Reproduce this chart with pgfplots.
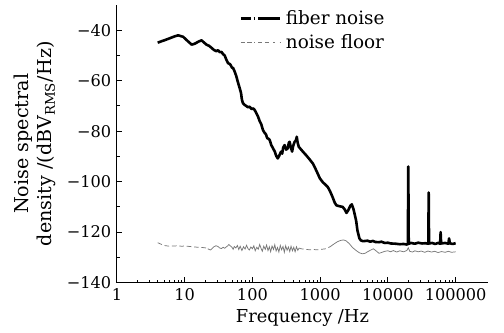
\documentclass[border=0pt]{standalone}
\usepackage{fontspec}
\setmainfont{DejaVu Serif}
\usepackage{pgfplots}
\pgfplotsset{compat=1.18}
\usepackage{pgfplotstable}

\pgfplotstableread{
f v
4 -44.9
5 -44
6 -43.2
7 -42.5
8 -42
9.5 -42.6
11 -44.2
12.7 -45.7
14.2 -45.3
16 -44.5
17.8 -44
19 -44.7
21 -45.7
23 -46.2
25 -47
27 -47.8
29.5 -48.3
31 -47.9
33 -48.7
35 -48.6
37 -49.5
39 -50
41 -51.5
43.6 -53
47 -53.5
50 -54.8
52 -55
55 -56.5
58 -58.3
61 -60.5
65 -63
68 -64.9
70 -67.5
72.5 -68.9
76 -69.5
81 -70
86 -70.5
91 -70.3
97 -71.2
103 -71
108 -71.6
114 -72.8
121 -74.2
128 -76
135 -77.2
143 -79.5
150 -80.5
158 -81.2
166 -82.8
173 -83
180 -83.5
190 -85.5
200 -86.6
214 -88.1
225 -89.8
237 -90.8
250 -89.6
265 -88.1
275 -88.9
285 -86.5
299 -85.5
315 -87.3
333 -86.8
345 -84.6
354 -84.2
370 -86.5
386 -88.1
400 -85.8
420 -84.2
440 -83.6
452 -82.2
465 -84.5
484 -86.2
520 -87.2
560 -88.2
620 -89.5
700 -91.2
780 -92.8
850 -94.8
920 -96.8
990 -98.7
1100 -100.3
1220 -101.4
1300 -102.2
1400 -103.8
1520 -106
1640 -108.3
1740 -109.4
1900 -109.7
2150 -110
2300 -111
2450 -112.4
2600 -111.3
2800 -109.5
2930 -109
3100 -110.8
3220 -112.7
3400 -115.5
3550 -119.3
3800 -122.5
4000 -123.3
4300 -123.6
5000 -123.4
5500 -123.8
6000 -123.5
6500 -123.9
7400 -124
8000 -123.8
9000 -124.3
10000 -124.2
11000 -124.5
13000 -124.6
15000 -124.8
17000 -124.7
19000 -124.9
19700 -124.8
20000 -94
20300 -124.6
22000 -124.3
25000 -124.6
28000 -124.2
32000 -124.5
36000 -124.4
39500 -124.6
40000 -104.3
40500 -124.5
45000 -124.3
50000 -124.7
55000 -124.3
59000 -124.6
60000 -120
61000 -124.5
70000 -124.3
78000 -124.6
80000 -122.5
82000 -124.4
90000 -124.7
100000 -124.4
}\fiber

\pgfplotstableread{
f v
4 -124.2
4.5 -124.8
5 -125.3
6 -125.6
7 -125.5
8 -125.4
9 -125.6
10 -125.5
12 -125.7
14 -125.9
16 -126
18 -126.1
20 -126.2
22 -126.6
}\floorA

\pgfplotstableread{
f v
22 -126.6
24 -127.1
25.5 -126.5
27 -125.8
29 -125.4
31 -125.7
33 -126.3
35 -126.5
37 -126.0
39 -126.4
41 -125.9
43 -125.5
45 -124.9
47 -125.4
50 -126.0
52 -126.8
54 -125.7
57 -126.3
60 -125.3
63 -126.9
66 -125.6
70 -127.3
74 -125.8
78 -126.7
82 -125.2
86 -126.5
90 -127.1
95 -125.9
100 -126.6
105 -125.4
110 -127.4
116 -126.0
122 -126.8
128 -124.9
134 -126.4
140 -127.6
147 -125.6
155 -126.8
162 -125.1
170 -127.3
178 -125.8
186 -127.8
195 -125.5
205 -126.9
214 -125.0
224 -127.5
235 -126.1
246 -127.9
258 -125.3
270 -127.0
283 -125.7
296 -128.0
310 -125.4
325 -127.2
340 -125.9
356 -127.7
372 -125.6
390 -127.4
408 -126.0
427 -127.8
447 -125.8
468 -127.2
490 -126.3
}\floorB

\pgfplotstableread{
f v
490 -126.3
520 -126.6
600 -126.8
700 -127.0
800 -126.9
900 -127.0
1000 -126.9
1200 -126.6
1400 -125.8
}\floorC

\pgfplotstableread{
f v
1400 -125.8
1600 -124.7
1800 -123.8
2000 -123.3
2200 -123.1
2400 -123.4
2700 -124.6
3000 -126.1
3400 -127.3
3800 -128.2
4200 -128.6
4600 -128.4
5000 -127.8
5500 -127.2
6100 -126.6
6600 -127.3
7400 -128.4
8200 -128.0
9000 -127.6
10000 -127.4
11000 -127.8
12000 -127.3
13500 -127.9
15000 -127.4
17000 -127.8
19000 -127.3
20000 -126.2
21000 -127.6
23000 -127.9
25000 -127.4
28000 -127.8
31000 -127.5
35000 -128.0
39000 -127.5
44000 -127.9
49000 -127.6
55000 -128.1
62000 -127.7
70000 -128.0
78000 -127.6
87000 -128.0
100000 -127.8
}\floorD

\definecolor{floorgray}{RGB}{120,120,120}

\begin{document}
\fontsize{8.7pt}{10.4pt}\selectfont
\begin{tikzpicture}
\begin{axis}[
  scale only axis,
  width=200pt, height=149.6pt,
  xmode=log,
  xmin=1, xmax=300000,
  ymin=-140, ymax=-30,
  axis lines*=left,
  axis line style={line width=0.6pt},
  tick align=inside,
  major tick length=3pt,
  minor tick length=1.6pt,
  tick style={black, line width=0.5pt},
  xtick={1,10,100,1000,10000,100000},
  xticklabels={1,10,100,1000,10000,100000},
  ytick={-140,-120,-100,-80,-60,-40},
  yticklabels={−140,−120,−100,−80,−60,−40},
  minor ytick={-130,-110,-90,-70,-50},
  xlabel={Frequency /Hz},
  xlabel style={font=\fontsize{9.6pt}{11pt}\selectfont, yshift=1pt},
  ylabel={Noise spectral\\density /(dBV\textsubscript{RMS}/Hz)},
  ylabel style={align=center, font=\fontsize{10.3pt}{12.6pt}\selectfont},
  legend cell align=left,
  legend style={at={(0.33,0.995)}, anchor=north west, draw=none, fill=none,
    inner xsep=0pt, inner ysep=0pt, row sep=0pt,
    font=\fontsize{9.9pt}{12pt}\selectfont},
]
\addplot[black, line width=1.4pt, line join=round,
  legend image code/.code={\draw[black, line width=1.3pt,
    dash pattern=on 5.4pt off 1.5pt on 0.7pt off 1.5pt on 12pt]
    (0pt,0pt) -- (21.6pt,0pt);}] table[x=f,y=v] {\fiber};
\addlegendentry{fiber noise}
\addplot[floorgray, line width=0.4pt, dash pattern=on 2.5pt off 1.5pt,
  legend image code/.code={\draw[floorgray, line width=0.4pt,
    dash pattern=on 2.2pt off 1.3pt on 2.2pt off 1.6pt on 0.5pt off 1.6pt on 2.2pt off 1.3pt on 2.2pt]
    (0pt,0pt) -- (21.6pt,0pt);}] table[x=f,y=v] {\floorA};
\addlegendentry{noise floor}
\addplot[floorgray, line width=0.4pt, forget plot] table[x=f,y=v] {\floorB};
\addplot[floorgray, line width=0.4pt, dash pattern=on 2.5pt off 1.5pt, forget plot] table[x=f,y=v] {\floorC};
\addplot[floorgray, line width=0.4pt, forget plot] table[x=f,y=v] {\floorD};
\end{axis}
\pgfresetboundingbox
\path ([xshift=-63pt,yshift=-27pt]current axis.south west) rectangle ([xshift=8.64pt,yshift=2.7pt]current axis.north east);
\end{tikzpicture}
\end{document}
